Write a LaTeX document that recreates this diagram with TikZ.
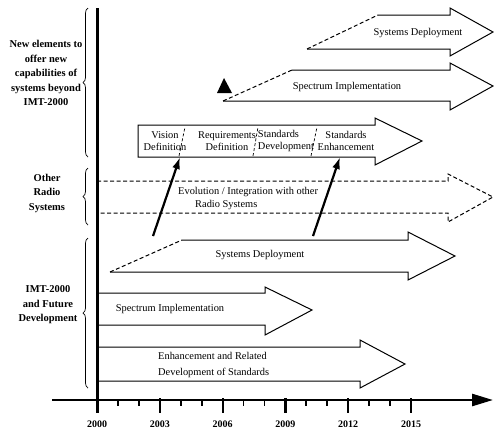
\documentclass[tikz,border=0pt]{standalone}
\usepackage{fontspec}
\setmainfont{Liberation Serif}
\usetikzlibrary{arrows.meta,decorations.pathreplacing}
\tikzset{
  phase/.style={draw,line width=1pt,line join=miter},
  dashphase/.style={draw,line width=1pt,dash pattern=on 4pt off 2.5pt},
  divider/.style={draw,line width=0.7pt,dash pattern=on 3pt off 2pt},
  phasetext/.style={font=\fontsize{10.4}{12.5}\selectfont,align=center,inner sep=0pt},
  grouptext/.style={font=\fontsize{10.5}{14.5}\bfseries\selectfont,align=center,inner sep=0pt},
  groupbrace/.style={decorate,decoration={brace,amplitude=5pt},line width=0.7pt},
  milestone/.style={line width=2.2pt,-{Latex[length=12pt,width=8pt]}},
  yeartext/.style={font=\fontsize{10}{12}\bfseries\selectfont,inner sep=0pt}
}
\begin{document}
\begin{tikzpicture}[x=1pt,y=-1pt]
  \useasboundingbox (0,0) rectangle (494,432);

  \node[grouptext] (newelem) at (46,73) {New elements to\\offer new\\capabilities of\\systems beyond\\IMT-2000};
  \node[grouptext] (other) at (47,193) {Other\\Radio\\Systems};
  \node[grouptext] (imt) at (48,305) {IMT-2000\\and Future\\Development};
  \draw[groupbrace] (88,157) -- (88,8);
  \draw[groupbrace] (88,225) -- (88,168);
  \draw[groupbrace] (88,388) -- (88,238);

  % beyond IMT-2000
  \draw[dashphase] (307,49) -- (378,15);
  \draw[phase] (378,15) -- (450,15) -- (450,8) -- (493,32) -- (450,56) -- (450,49) -- (307,49);
  \node[phasetext] (sysdep) at (418,33) {Systems Deployment};

  \draw[dashphase] (223,101) -- (292,70);
  \draw[phase] (292,70) -- (450,70) -- (450,63) -- (493,86) -- (450,110) -- (450,101) -- (223,101);
  \node[phasetext] (specimp) at (347,87) {Spectrum Implementation};
  \fill (224,78) -- (217,93) -- (232,93) -- cycle;

  \draw[phase] (375,125) -- (138,125) -- (138,157) -- (375,157) -- (375,165) -- (422,141) -- (375,118) -- cycle;
  \draw[divider] (179,156) -- (185,127);
  \draw[divider] (253,156) -- (258,127);
  \draw[divider] (311,156) -- (317,127);
  \node[phasetext] (vision) at (165,141) {Vision\\Definition};
  \node[phasetext] (req) at (227,141) {Requirements\\Definition};
  \node[phasetext,align=left] (stddev) at (286,141) {Standards\\Development};
  \node[phasetext] (stdenh) at (346,141) {Standards\\Enhancement};
  \coordinate (visionpt) at (180,157);
  \coordinate (enhpt) at (340,157);

  % other radio systems
  \draw[dashphase] (97,181) -- (448,181) -- (448,174) -- (493,197) -- (448,222) -- (448,213) -- (97,213);
  \node[phasetext,align=left,anchor=west] (evol) at (178,198.5) {Evolution / Integration with other\\\hspace*{17pt}Radio Systems};

  % IMT-2000
  \draw[dashphase] (110,272) -- (182,240);
  \draw[phase] (182,240) -- (408,240) -- (408,232) -- (455,256) -- (408,280) -- (408,272) -- (110,272);
  \node[phasetext] (sysdep2) at (260,255) {Systems Deployment};

  \draw[phase] (97,293) -- (265,293) -- (265,287) -- (312,310) -- (265,335) -- (265,325) -- (97,325);
  \node[phasetext] (specimp2) at (170,309) {Spectrum Implementation};

  \draw[phase] (97,347) -- (360,347) -- (360,340) -- (405,364) -- (360,388) -- (360,381) -- (97,381);
  \node[phasetext,align=left,anchor=west,font=\fontsize{10.4}{16}\selectfont] (enhrel) at (158,365) {Enhancement and Related\\Development of Standards};

  \coordinate (tailA) at (153,236);
  \coordinate (tailB) at (313,236);
  \draw[milestone] (tailA) -- (visionpt);
  \draw[milestone] (tailB) -- (enhpt);

  % time axis
  \draw[line width=3pt] (97,8) -- (97,413);
  \draw[line width=2.6pt,-{Triangle[length=21pt,width=12pt]}] (52,400) -- (493,400);
  \foreach \k in {1,...,15}
    \draw[line width=1.8pt] ({97+20.93*\k},400) -- ++(0,6);
  \foreach \yr [count=\i from 0] in {2000,2003,...,2015} {
    \draw[line width=2.2pt] ({97+62.8*\i},398) -- ++(0,15);
    \node[yeartext] (y\yr) at ({97+62.8*\i},424) {\yr};
  }
\end{tikzpicture}
\end{document}
